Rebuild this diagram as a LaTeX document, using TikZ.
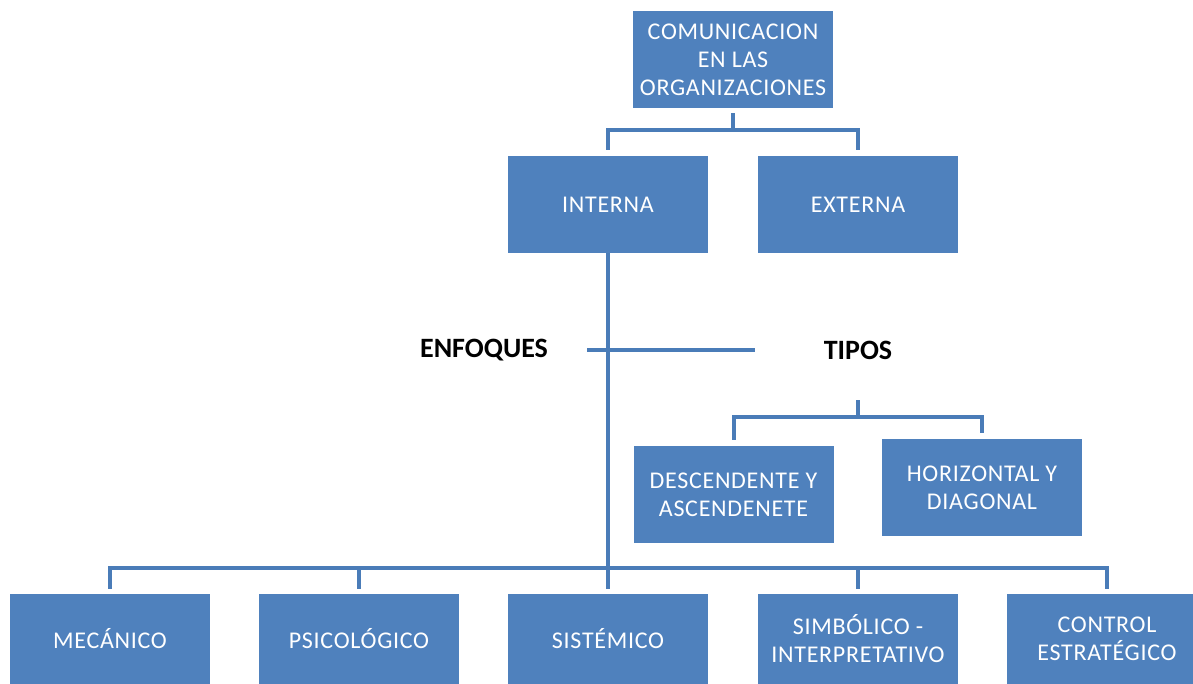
\documentclass[tikz,border=0pt]{standalone}
\usepackage{fontspec}
\setmainfont{Carlito}
\newfontfamily\boxfont[LetterSpace=3]{Carlito}
\definecolor{boxblue}{HTML}{4F81BD}
\definecolor{lineblue}{HTML}{4A7CB8}
\begin{document}
\begin{tikzpicture}[x=1pt,y=-1pt,
  box/.style={fill=boxblue,draw=none,text=white,minimum width=200pt,minimum height=97pt,
    inner sep=0pt,align=center,font=\boxfont\fontsize{24}{28}\selectfont},
  lowbox/.style={box,minimum height=90pt},
  lbl/.style={text=black,inner sep=0pt,font=\bfseries\fontsize{28}{30}\selectfont},
  conn/.style={draw=lineblue,line width=4pt}]
\useasboundingbox (0,0) rectangle (1193,683);
\clip (0,0) rectangle (1193,683);
\fill[white] (0,0) rectangle (1193,683);
% nodes
\node[box] (top) at (733,59.5) {COMUNICACION\\EN LAS\\ORGANIZACIONES};
\node[box] (interna) at (608,204.5) {INTERNA};
\node[box] (externa) at (858,204.5) {EXTERNA};
\node[lbl] (enf) at (484,350) {ENFOQUES};
\node[lbl] (tipos) at (858,350) {TIPOS};
\node[box] (desc) at (733.5,494.5) {DESCENDENTE Y\\ASCENDENETE};
\node[box] (horiz) at (982,487.5) {HORIZONTAL Y\\DIAGONAL};
\node[lowbox] (mec) at (110,639) {MECÁNICO};
\node[lowbox] (psi) at (359,639) {PSICOLÓGICO};
\node[lowbox] (sis) at (608,639) {SISTÉMICO};
\node[lowbox] (sim) at (858,639) {SIMBÓLICO -\\INTERPRETATIVO};
\node[lowbox] (con) at (1107,639) {CONTROL\\ESTRATÉGICO};
% coordinates
\coordinate (hl) at (587,350);
\coordinate (hr) at (755,350);
\coordinate (tp) at (858,400);
\coordinate (tj) at (858,417);
\coordinate (bj) at (608,568);
\coordinate (tj0) at (733,130);
% connectors
\draw[conn,shorten <=5pt] (top.south) -- (tj0);
\draw[conn,shorten >=6pt] (tj0) -| (interna.north);
\draw[conn,shorten >=6pt] (tj0) -| (externa.north);
\draw[conn,shorten >=5pt] (interna.south) -- (sis.north);
\draw[conn] (hl) -- (hr);
\draw[conn] (tp) -- (tj);
\draw[conn,shorten >=6pt] (tj) -| (desc.north);
\draw[conn,shorten >=6pt] (tj) -| (horiz.north);
\draw[conn,shorten >=5pt] (bj) -| (mec.north);
\draw[conn,shorten >=5pt] (bj) -| (psi.north);
\draw[conn,shorten >=5pt] (bj) -| (sim.north);
\draw[conn,shorten >=5pt] (bj) -| (con.north);
\end{tikzpicture}
\end{document}
